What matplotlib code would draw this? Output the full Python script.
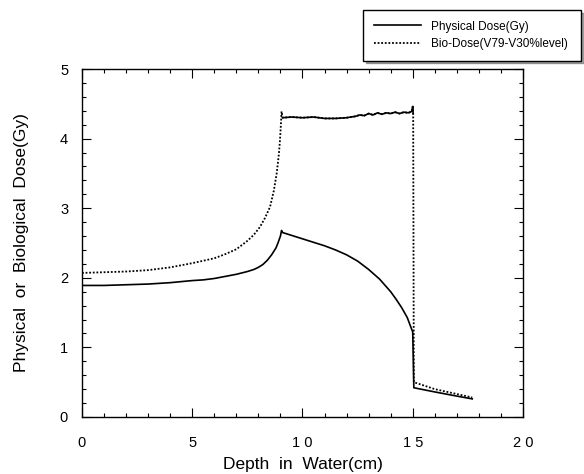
import numpy as np
import matplotlib
matplotlib.use("Agg")
import matplotlib.pyplot as plt
from matplotlib.ticker import MultipleLocator

plt.rcParams["font.family"] = ["Liberation Sans", "DejaVu Sans"]

# physical dose along depth
depth_phys = [0.0, 1.0, 2.0, 3.0, 4.0, 5.0, 5.5, 6.0, 6.5, 7.0, 7.5, 7.8, 8.0,
              8.2, 8.4, 8.6, 8.8, 8.9, 9.0, 9.05, 9.1, 9.5, 10.0, 10.5, 11.0,
              11.5, 12.0, 12.25, 12.5, 12.75, 13.0, 13.25, 13.5, 13.75, 14.0,
              14.25, 14.5, 14.75, 15.0, 15.05, 16.0, 17.0, 17.7]
dose_phys = [1.89, 1.89, 1.90, 1.91, 1.93, 1.96, 1.97, 1.99, 2.02, 2.05, 2.09,
             2.12, 2.15, 2.19, 2.25, 2.33, 2.43, 2.51, 2.60, 2.68, 2.65, 2.61,
             2.56, 2.51, 2.46, 2.40, 2.33, 2.285, 2.24, 2.18, 2.12, 2.05, 1.98,
             1.89, 1.80, 1.69, 1.57, 1.43, 1.22, 0.42, 0.36, 0.30, 0.26]

# biological dose along depth
depth_bio = [0.0, 1.0, 2.0, 3.0, 4.0, 5.0, 6.0, 6.5, 7.0, 7.5, 7.8, 8.07, 8.3,
             8.53, 8.7, 8.83, 8.93, 8.98, 9.03, 9.05, 9.1, 9.5, 10.0, 10.5,
             11.0, 11.5, 12.0, 12.4, 12.6, 12.8, 13.0, 13.2, 13.4, 13.6, 13.8,
             14.0, 14.2, 14.4, 14.6, 14.8, 14.95, 15.0, 15.02, 15.05, 16.0,
             17.0, 17.7]
dose_bio = [2.07, 2.08, 2.09, 2.11, 2.15, 2.21, 2.28, 2.34, 2.41, 2.53, 2.62,
            2.73, 2.86, 3.02, 3.25, 3.50, 3.78, 3.98, 4.25, 4.39, 4.30, 4.31,
            4.30, 4.31, 4.29, 4.29, 4.30, 4.32, 4.34, 4.33, 4.36, 4.34, 4.37,
            4.35, 4.37, 4.36, 4.38, 4.36, 4.38, 4.37, 4.39, 4.46, 4.36, 0.50,
            0.40, 0.33, 0.28]

xticks = [0, 5, 10, 15, 20]
xtick_labels = ["0", "5", "1 0", "1 5", "2 0"]
yticks = [0, 1, 2, 3, 4, 5]

fig = plt.figure(figsize=(5.84, 4.74), dpi=100)
ax = fig.add_axes([0.1404, 0.1203, 0.7551, 0.7341])

dotted = (0, (1, 1.0))
ax.plot(depth_phys, dose_phys, color="black", lw=1.2, label="Physical Dose(Gy)")
ax.plot(depth_bio, dose_bio, color="black", lw=1.3, linestyle=dotted,
        label="Bio-Dose(V79-V30%level)")
# the noisy plateau reads as a continuous line
i0, i1 = depth_bio.index(9.1), depth_bio.index(15.02)
ax.plot(depth_bio[i0:i1 + 1], dose_bio[i0:i1 + 1], color="black", lw=1.2)

ax.set_xlim(0, 20)
ax.set_ylim(0, 5)
ax.set_xticks(xticks)
ax.set_xticklabels(xtick_labels)
ax.set_yticks(yticks)
ax.xaxis.set_minor_locator(MultipleLocator(1))
ax.yaxis.set_minor_locator(MultipleLocator(0.2))
ax.tick_params(which="both", direction="in", top=True, right=True, width=0.8)
ax.tick_params(which="major", length=6.5, labelsize=10.5)
ax.tick_params(axis="x", which="major", pad=14)
ax.tick_params(axis="y", which="major", pad=10)
ax.tick_params(which="minor", length=3)
for s in ax.spines.values():
    s.set_linewidth(1.0)

ax.set_xlabel("Depth  in  Water(cm)", fontsize=12.5, labelpad=5)
ax.set_ylabel("Physical  or  Biological  Dose(Gy)", fontsize=12.5, labelpad=22)

leg = fig.legend(loc="upper left", bbox_to_anchor=(0.6216, 0.979, 0.374, 0.0),
                 mode="expand", fontsize=8.5, frameon=True, fancybox=False,
                 shadow=True, handlelength=4.0, handletextpad=0.85,
                 labelspacing=0.45, borderpad=0.9, borderaxespad=0)
leg.get_frame().set_edgecolor("black")
leg.get_frame().set_linewidth(1.0)

fig.savefig("out.png", dpi=100)
